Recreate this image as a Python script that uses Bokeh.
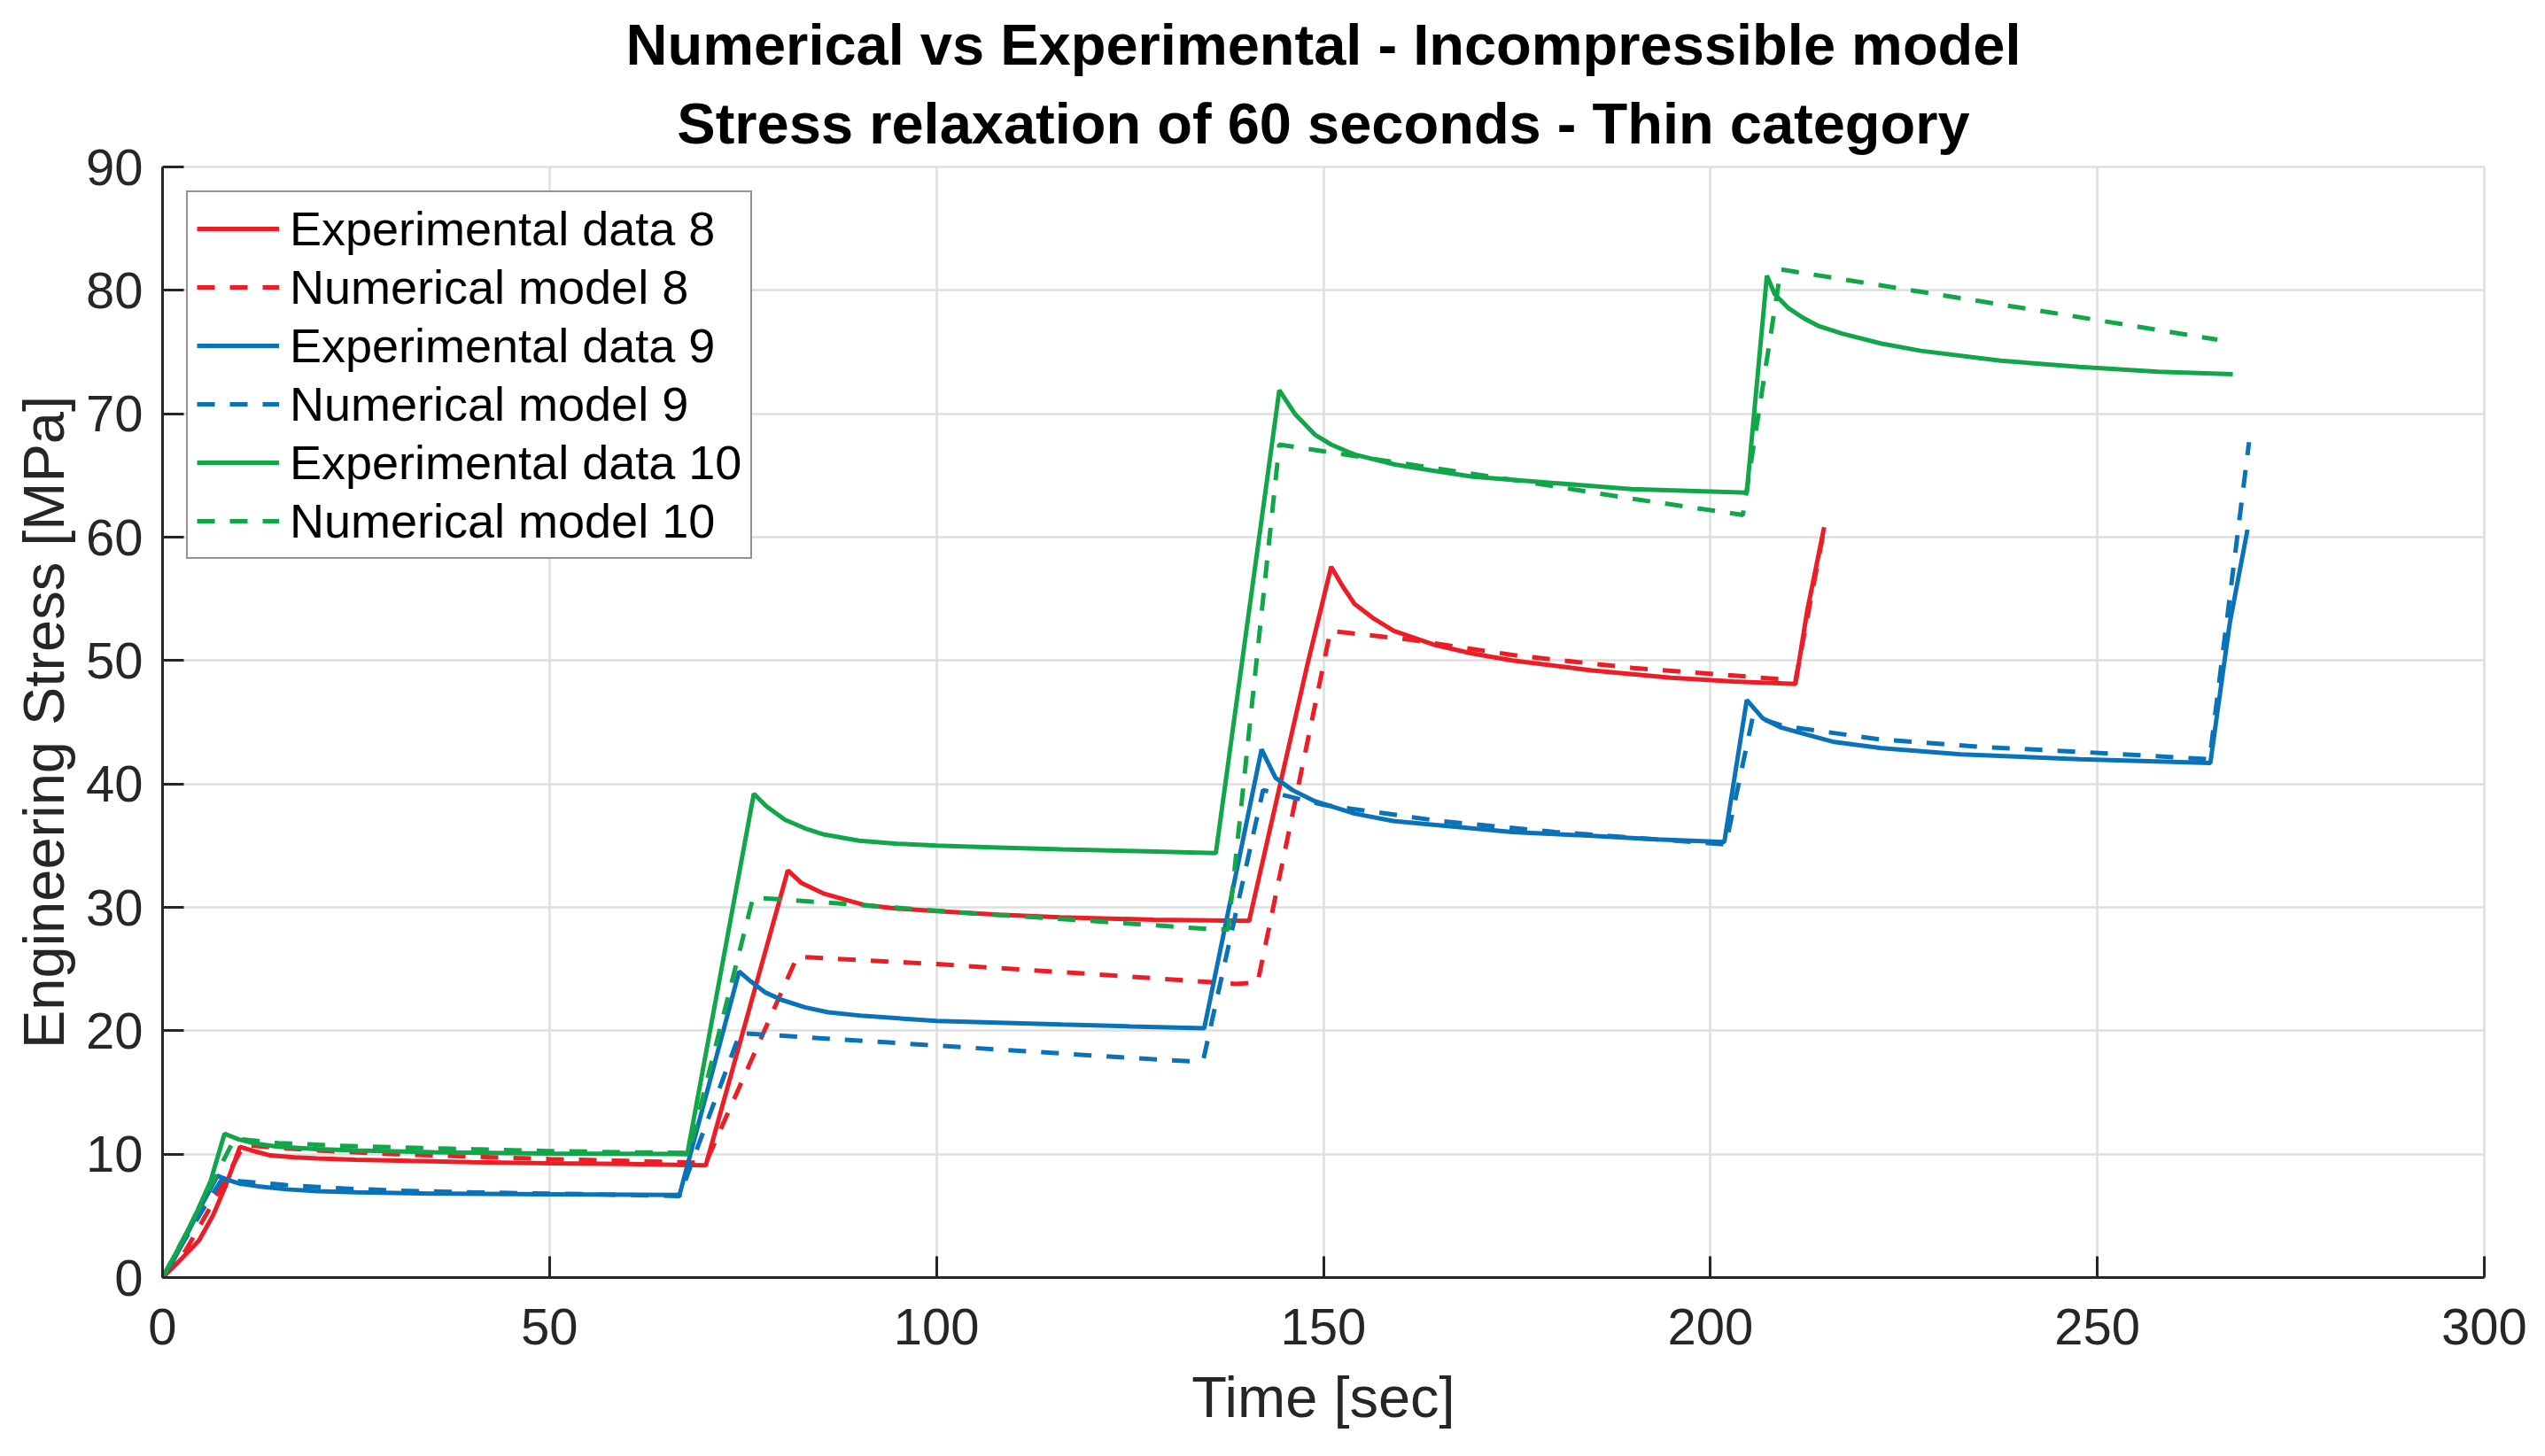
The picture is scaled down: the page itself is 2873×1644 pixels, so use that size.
from bokeh.plotting import figure
from bokeh.models import Title, Range1d, FixedTicker
from bokeh.embed import file_html
from bokeh.resources import INLINE

# ---- data ----
exp8_t = [0, 2.1, 4.7, 6.5, 8.2, 10.0, 11.5, 13.9, 17, 20, 25, 32, 40, 50, 60, 70.2,
          80.8, 82.5, 85.5, 90.6, 95, 100, 108, 116, 128, 140.4,
          147.9, 151.0, 152.5, 154, 156.5, 159.1, 164.2, 169, 174.4, 184.7, 194.9, 203, 211.0,
          212.5, 214.7]
exp8_v = [0, 1.3, 3.0, 5.0, 7.5, 10.6, 10.3, 9.9, 9.75, 9.65, 9.55, 9.45, 9.35, 9.26, 9.2, 9.1,
          33.0, 32.0, 31.1, 30.2, 29.9, 29.7, 29.4, 29.2, 29.0, 28.9,
          49.6, 57.6, 56.0, 54.6, 53.4, 52.4, 51.3, 50.6, 50.0, 49.2, 48.6, 48.3, 48.1,
          54.0, 60.8]

num8_t = [0, 3, 6, 8.5, 10.5, 15, 20, 30, 40, 50, 60, 70.2, 82.0, 100, 120, 138.7, 141.5,
          150.9, 161.1, 175, 190, 211, 214.8]
num8_v = [0, 2.2, 5.5, 8.4, 10.75, 10.5, 10.3, 10.0, 9.8, 9.6, 9.45, 9.3, 26.0, 25.4, 24.6, 23.8, 23.9,
          52.4, 51.7, 50.4, 49.4, 48.4, 61.0]

exp9_t = [0, 1.5, 3, 5, 7.1, 8.5, 10, 12.3, 16, 20, 25, 35, 50, 66.8,
          74.5, 76, 77.9, 80, 83, 86, 90.6, 100, 108, 116.2, 125, 134.6,
          142.0, 143.8, 146, 148.9, 154, 159, 164.2, 174.4, 184.7, 193, 201.8,
          204.7, 206.8, 209, 211.9, 216, 222.1, 232.4, 247.7, 264.6,
          267.1, 269.4]
exp9_v = [0, 1.5, 3.3, 5.8, 8.25, 7.9, 7.6, 7.4, 7.15, 7.0, 6.9, 6.8, 6.75, 6.7,
          24.8, 24.0, 23.1, 22.5, 21.9, 21.5, 21.2, 20.8, 20.65, 20.5, 20.35, 20.2,
          42.8, 40.5, 39.5, 38.6, 37.6, 37.0, 36.7, 36.1, 35.8, 35.5, 35.3,
          46.8, 45.3, 44.6, 44.1, 43.4, 42.9, 42.4, 42.0, 41.7,
          53.0, 60.6]

num9_t = [0, 3, 5.5, 7.7, 10, 15.9, 22, 30.2, 40, 50, 60, 66.8, 74.6, 77.3, 90, 105, 120, 133.3,
          134.5, 142.2, 150, 165, 180, 202, 205.5, 209.4, 222, 235, 247.7, 264.5, 269.6]
num9_v = [0, 3.2, 5.8, 8.0, 7.8, 7.5, 7.25, 7.05, 6.9, 6.8, 6.7, 6.6, 19.8, 19.7, 19.2, 18.6, 18.0, 17.5,
          17.7, 39.5, 38.3, 37.0, 36.1, 35.1, 45.5, 44.7, 43.6, 43.0, 42.6, 42.0, 67.7]

exp10_t = [0, 2.6, 4.5, 6.2, 8.0, 9.8, 12, 14.9, 20, 25.1, 35, 50, 67.8,
           76.4, 78, 80.4, 83, 85.5, 90, 95, 100, 108, 116.2, 126, 136.1,
           144.3, 146.3, 148.9, 151, 154, 159.1, 164, 169.3, 179.5, 189.8, 204.7,
           207.3, 208.3, 210, 211.9, 214, 217, 222, 227.2, 237.5, 247.7, 257.9, 267.5]
exp10_v = [0, 3.0, 5.4, 7.8, 11.65, 11.2, 10.85, 10.6, 10.4, 10.3, 10.15, 10.05, 10.0,
           39.2, 38.2, 37.1, 36.4, 35.9, 35.4, 35.15, 35.0, 34.85, 34.7, 34.55, 34.4,
           71.9, 70.0, 68.3, 67.5, 66.7, 65.9, 65.4, 64.9, 64.4, 63.9, 63.6,
           81.2, 79.7, 78.6, 77.8, 77.1, 76.5, 75.7, 75.1, 74.3, 73.8, 73.4, 73.2]

num10_t = [0, 3, 6, 9.3, 15, 22, 30.2, 40, 50, 60, 68.0, 76.3, 90, 105, 120, 136.2, 137.7,
           144.3, 160, 176, 190, 204.2, 209.1, 225, 245, 265.5]
num10_v = [0, 3.5, 7.2, 11.25, 10.9, 10.7, 10.55, 10.4, 10.25, 10.15, 10.1, 30.8, 30.2, 29.5, 28.9, 28.2, 28.2,
           67.5, 66.0, 64.5, 63.1, 61.8, 81.7, 80.1, 78.1, 76.0]

x_ticks = [0, 50, 100, 150, 200, 250, 300]
y_ticks = [0, 10, 20, 30, 40, 50, 60, 70, 80, 90]

series = [
    ("Experimental data 8", exp8_t, exp8_v, "#EE1C25", "solid"),
    ("Numerical model 8", num8_t, num8_v, "#EE1C25", "20 17"),
    ("Experimental data 9", exp9_t, exp9_v, "#0A72B8", "solid"),
    ("Numerical model 9", num9_t, num9_v, "#0A72B8", "20 17"),
    ("Experimental data 10", exp10_t, exp10_v, "#12A64A", "solid"),
    ("Numerical model 10", num10_t, num10_v, "#12A64A", "20 17"),
]

FONT = "Liberation Sans"

p = figure(width=2857, height=1616, output_backend="svg", toolbar_location=None,
           title=None, x_range=Range1d(0, 300), y_range=Range1d(0, 90),
           min_border_left=183, min_border_right=53, min_border_top=188, min_border_bottom=0)

p.add_layout(Title(text="Stress relaxation of 60 seconds - Thin category", align="center",
                   text_font=FONT, text_font_size="65px", text_font_style="bold",
                   text_color="black", standoff=26), "above")
p.add_layout(Title(text="Numerical vs Experimental - Incompressible model", align="center",
                   text_font=FONT, text_font_size="65px", text_font_style="bold",
                   text_color="black", standoff=2), "above")

for name, t, v, col, dash in series:
    p.line(t, v, line_color=col, line_width=5, line_dash=dash, legend_label=name)

for ax in (p.xaxis[0], p.yaxis[0]):
    ax.axis_line_color = "#262626"
    ax.axis_line_width = 3
    ax.major_tick_line_color = "#262626"
    ax.major_tick_line_width = 3
    ax.major_tick_in = 24
    ax.major_tick_out = 0
    ax.minor_tick_line_color = None
    ax.major_label_text_font = FONT
    ax.major_label_text_font_size = "58px"
    ax.major_label_text_color = "#262626"
    ax.axis_label_text_font = FONT
    ax.axis_label_text_font_size = "65px"
    ax.axis_label_text_font_style = "normal"
    ax.axis_label_text_color = "#262626"

p.xaxis.ticker = FixedTicker(ticks=x_ticks)
p.yaxis.ticker = FixedTicker(ticks=y_ticks)
p.xaxis.axis_label = "Time [sec]"
p.yaxis.axis_label = "Engineering Stress [MPa]"
p.xaxis.major_label_standoff = 35
p.yaxis.major_label_standoff = 22
p.xaxis.axis_label_standoff = 20
p.yaxis.axis_label_standoff = 8

p.xgrid.grid_line_color = "#DEDEDE"
p.ygrid.grid_line_color = "#DEDEDE"
p.xgrid.grid_line_width = 2.5
p.ygrid.grid_line_width = 2.5
p.outline_line_color = "#DEDEDE"
p.outline_line_width = 2.5
p.background_fill_color = "white"
p.border_fill_color = "white"

lg = p.legend[0]
lg.location = "top_left"
lg.margin = 27
lg.padding = 10
lg.spacing = 4
lg.label_text_font = FONT
lg.label_text_font_size = "54px"
lg.label_text_color = "black"
lg.label_height = 60
lg.glyph_height = 60
lg.glyph_width = 93
lg.label_standoff = 12
lg.border_line_color = "#262626"
lg.border_line_width = 2.5
lg.background_fill_alpha = 1.0

open("out.html", "w").write(file_html(p, INLINE))
